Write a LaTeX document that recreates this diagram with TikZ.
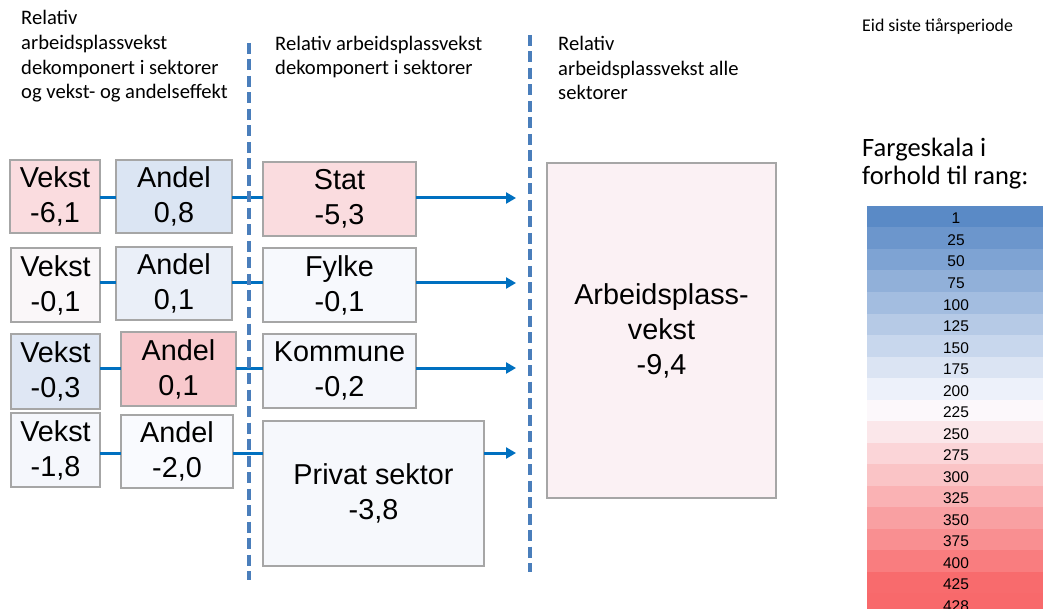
\documentclass[tikz,border=0pt]{standalone}
\usepackage{fontspec}
\setmainfont{Liberation Sans}
\newfontfamily\calibri{Carlito}
\usetikzlibrary{arrows.meta}

% connector and frame colours
\definecolor{linkblue}{HTML}{0070C0}
\definecolor{sepblue}{HTML}{4A7EBB}
\definecolor{boxgray}{HTML}{A6A6A6}
% three-colour scale
\definecolor{scaleblue}{HTML}{5A8AC6}
\definecolor{scalewhite}{HTML}{FCFCFF}
\definecolor{scalered}{HTML}{F8696B}
% cell fills
\definecolor{vekstA}{HTML}{FADCDF}
\definecolor{andelA}{HTML}{DBE5F3}
\definecolor{statfill}{HTML}{FADCDF}
\definecolor{vekstB}{HTML}{FAF7F9}
\definecolor{andelB}{HTML}{EAEFF8}
\definecolor{fylkefill}{HTML}{F7F9FD}
\definecolor{vekstC}{HTML}{DFE7F4}
\definecolor{andelC}{HTML}{F8C9CD}
\definecolor{kommunefill}{HTML}{F5F7FC}
\definecolor{vekstD}{HTML}{F5F7FC}
\definecolor{andelD}{HTML}{F9FAFE}
\definecolor{privatfill}{HTML}{F6F8FC}
\definecolor{totalfill}{HTML}{FBF1F4}

\tikzset{
  cell/.style={draw=boxgray, line width=1.2pt, inner sep=0pt, outer sep=0pt,
    align=center, font=\fontsize{28.8}{35}\selectfont},
  link/.style={draw=linkblue, line width=3pt},
  flow/.style={link, -{Triangle[length=10pt,width=11pt]}},
  divider/.style={draw=sepblue, line width=3.2pt, dash pattern=on 11pt off 5.5pt},
  header/.style={anchor=base west, inner sep=0pt, align=left,
    font=\calibri\fontsize{20.6}{24.7}\selectfont},
  scalelabel/.style={anchor=base, inner sep=0pt, font=\fontsize{15.5}{18}\selectfont},
}

\begin{document}
\begin{tikzpicture}[x=1pt, y=-1pt]
	\useasboundingbox (0,0) rectangle (1043,609);

	% column headings (anchored on their last line)
	\node[header] (headA) at (21,99) {Relativ\\arbeidsplassvekst\\dekomponert i sektorer\\og vekst- og andelseffekt};
	\node[header] (headB) at (275,75) {Relativ arbeidsplassvekst\\dekomponert i sektorer};
	\node[header] (headC) at (558,100) {Relativ\\arbeidsplassvekst alle\\sektorer};
	\node[header, font=\calibri\fontsize{17.9}{21}\selectfont] (period) at (862,32) {Eid siste tiårsperiode};

	% growth and share effects
	\node[cell, fill=vekstA, minimum width=90pt, minimum height=73pt] (vekst1) at (55,196.5) {Vekst\\-6,1};
	\node[cell, fill=andelA, minimum width=116pt, minimum height=73pt] (andel1) at (174,196.5) {Andel\\0,8};
	\node[cell, fill=vekstB, minimum width=89pt, minimum height=74pt] (vekst2) at (55.5,285) {Vekst\\-0,1};
	\node[cell, fill=andelB, minimum width=116pt, minimum height=73pt] (andel2) at (174,283.5) {Andel\\0,1};
	\node[cell, fill=vekstC, minimum width=89pt, minimum height=75pt] (vekst3) at (55.5,371.5) {Vekst\\-0,3};
	\node[cell, fill=andelC, minimum width=115pt, minimum height=74pt] (andel3) at (178.5,369) {Andel\\0,1};
	\node[cell, fill=vekstD, minimum width=89pt, minimum height=74pt] (vekst4) at (55.5,450) {Vekst\\-1,8};
	\node[cell, fill=andelD, minimum width=112pt, minimum height=73pt] (andel4) at (177,451.5) {Andel\\-2,0};

	% sectors
	\node[cell, fill=statfill, minimum width=153pt, minimum height=74pt] (stat) at (339.5,199) {Stat\\-5,3};
	\node[cell, fill=fylkefill, minimum width=153pt, minimum height=74pt] (fylke) at (339.5,285) {Fylke\\-0,1};
	\node[cell, fill=kommunefill, minimum width=153pt, minimum height=74pt] (kommune) at (339.5,371) {Kommune\\-0,2};
	\node[cell, fill=privatfill, minimum width=221pt, minimum height=145pt] (privat) at (373.5,493.5) {Privat sektor\\-3,8};

	% all sectors
	\node[cell, fill=totalfill, minimum width=229pt, minimum height=335pt] (total) at (661.5,330.5) {Arbeidsplass-\\vekst\\-9,4};

	% connectors
	\foreach \v/\a/\s/\y [count=\r] in {vekst1/andel1/stat/198, vekst2/andel2/fylke/283, vekst3/andel3/kommune/368, vekst4/andel4/privat/453} {
		\coordinate (tip\r) at (516,\y);
		\draw[link] (\v.east |- tip\r) -- (\a.west |- tip\r);
		\draw[link] (\a.east |- tip\r) -- (\s.west |- tip\r);
		\draw[flow] (\s.east |- tip\r) -- (tip\r);
	}

	% dashed dividers
	\draw[divider] (249,43) -- (249,580);
	\draw[divider] (530,35) -- (530,572);

	% colour scale
	\node[header, font=\calibri\fontsize{26.5}{28}\selectfont] (scalehead) at (862,185) {Fargeskala i\\forhold til rang:};
	\foreach \val [count=\i from 0] in {1,25,50,75,100,125,150,175,200,225,250,275,300,325,350,375,400,425,428} {
		\pgfmathsetmacro\rowtop{206+21.5*\i}
		\ifdim \val pt<220pt
			\pgfmathsetmacro\share{(220-\val)/219*100}
			\colorlet{rowcol}{scaleblue!\share!scalewhite}
		\else
			\pgfmathsetmacro\share{(\val-220)/208*100}
			\colorlet{rowcol}{scalered!\share!scalewhite}
		\fi
		\fill[rowcol] (867,\rowtop) rectangle (1043,\rowtop+21.5);
		\node[scalelabel] (rank\i) at (956,\rowtop+18) {\val};
	}
\end{tikzpicture}
\end{document}
